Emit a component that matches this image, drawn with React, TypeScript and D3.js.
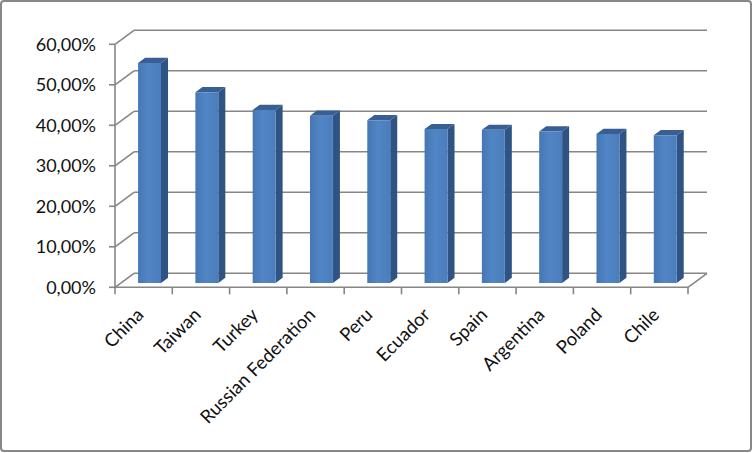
import React from "react";
import * as d3 from "d3";

const categories = ["China", "Taiwan", "Turkey", "Russian Federation", "Peru", "Ecuador", "Spain", "Argentina", "Poland", "Chile"];
const values = [54.3, 47.1, 42.7, 41.3, 40.2, 38.0, 37.8, 37.4, 36.8, 36.5];
const yTicks = [0, 10, 20, 30, 40, 50, 60];
const tickLabels = ["0,00%", "10,00%", "20,00%", "30,00%", "40,00%", "50,00%", "60,00%"];

const W = 753, H = 453;
const X0 = 115, X1 = 688;
const DX = 19, DY = 14;
const F0 = 0.31, F1 = 0.68;
const FONT = "Lato, 'Open Sans', sans-serif";

export default function App() {
  const x = d3.scaleBand<string>().domain(categories).range([X0, X1]).paddingInner(0).paddingOuter(0);
  const y = d3.scaleLinear().domain([0, 60]).range([287.3, 44.3]);
  const P = (px: number, v: number, f: number): [number, number] => [px + f * DX, y(v) - f * DY];
  const poly = (pts: [number, number][]) => pts.map(p => p.join(",")).join(" ");
  const bw = x.bandwidth();
  const grid = "#868686";

  return (
    <svg width={W} height={H} style={{ position: "fixed", left: 0, top: 0, background: "#fff" }} fontFamily={FONT}>
      <defs>
        <linearGradient id="frontGrad" x1="0" x2="1" y1="0" y2="0">
          <stop offset="0%" stopColor="#4677B4" />
          <stop offset="45%" stopColor="#5185C5" />
          <stop offset="100%" stopColor="#4A7DBB" />
        </linearGradient>
      </defs>
      <rect x={1} y={1} width={W - 3} height={H - 3} rx={3} fill="#fff" stroke="#878787" strokeWidth={2} />
      {/* back wall gridlines */}
      {yTicks.map(t => {
        const a = P(X0, t, 1), b = P(X1, t, 1);
        return <line key={"g" + t} x1={a[0]} y1={a[1]} x2={b[0]} y2={b[1]} stroke={grid} strokeWidth={1.6} />;
      })}
      {/* left wall diagonals */}
      {yTicks.map(t => {
        const a = P(X0, t, 0), b = P(X0, t, 1);
        return <line key={"d" + t} x1={a[0]} y1={a[1]} x2={b[0]} y2={b[1]} stroke={grid} strokeWidth={1.6} />;
      })}
      {/* floor right diagonal */}
      {(() => {
        const a = P(X1, 0, 0), b = P(X1, 0, 1);
        return <line x1={a[0]} y1={a[1]} x2={b[0]} y2={b[1]} stroke={grid} strokeWidth={1.6} />;
      })()}
      {/* bars */}
      {categories.map((c, i) => {
        const v = values[i];
        const xl = (x(c) as number) + bw * 0.3;
        const xr = (x(c) as number) + bw * 0.7;
        return (
          <g key={c}>
            <polygon points={poly([P(xr, 0, F0), P(xr, 0, F1), P(xr, v, F1), P(xr, v, F0)])} fill="#2F5383" />
            <polygon points={poly([P(xl, v, F0), P(xr, v, F0), P(xr, v, F1), P(xl, v, F1)])} fill="#385E93" />
            <polygon points={poly([P(xl, 0, F0), P(xr, 0, F0), P(xr, v, F0), P(xl, v, F0)])} fill="url(#frontGrad)" />
          </g>
        );
      })}
      {/* front axes */}
      <line x1={X0} y1={y(0)} x2={X1} y2={y(0)} stroke={grid} strokeWidth={1.6} />
      <line x1={X0} y1={y(0)} x2={X0} y2={y(60)} stroke={grid} strokeWidth={1.6} />
      {yTicks.map(t => (
        <line key={"yt" + t} x1={X0 - 6} y1={y(t)} x2={X0} y2={y(t)} stroke={grid} strokeWidth={1.6} />
      ))}
      {d3.range(categories.length + 1).map(i => {
        const px = X0 + i * bw;
        return <line key={"xt" + i} x1={px} y1={y(0)} x2={px} y2={y(0) + 7} stroke={grid} strokeWidth={1.6} />;
      })}
      {yTicks.map((t, i) => (
        <text key={"yl" + t} x={96} y={y(t) + 6.5} textAnchor="end" fontSize={18} fill="#111">{tickLabels[i]}</text>
      ))}
      {categories.map(c => {
        const cx = (x(c) as number) + bw / 2 + 1;
        const cy = 316;
        return (
          <text key={"xl" + c} transform={`translate(${cx},${cy}) rotate(-45)`} textAnchor="end" fontSize={18.5} fill="#111">{c}</text>
        );
      })}
    </svg>
  );
}
